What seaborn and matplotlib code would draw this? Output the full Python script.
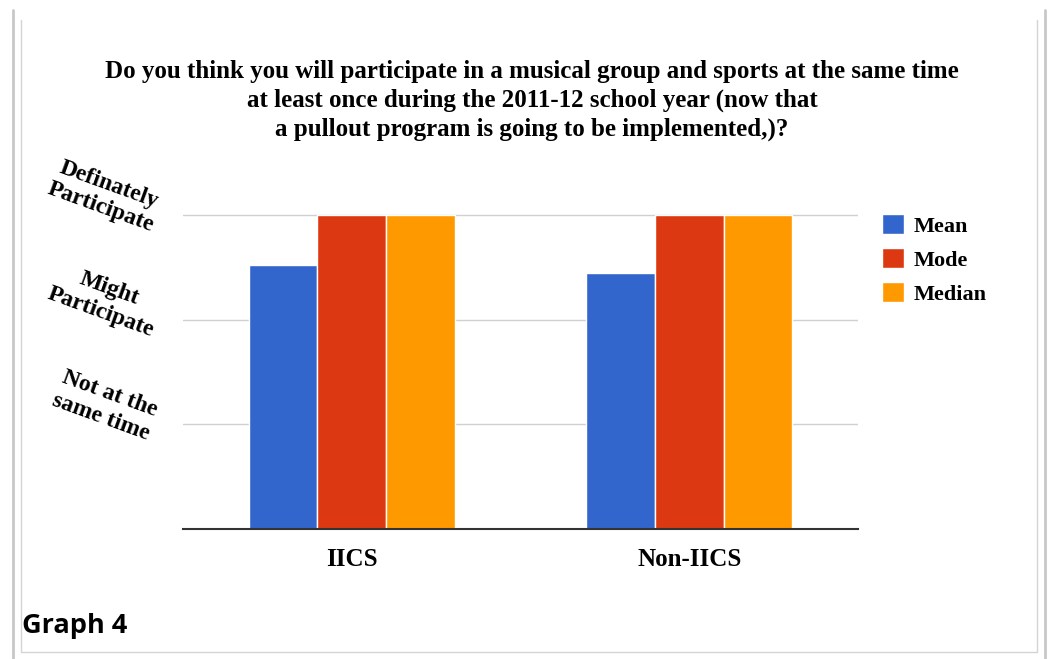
import matplotlib
matplotlib.use("Agg")
import matplotlib.pyplot as plt
import matplotlib.transforms as mtransforms
from matplotlib.lines import Line2D
import seaborn as sns
import pandas as pd

# ---- data ----
groups = ["IICS", "Non-IICS"]
stats = ["Mean", "Mode", "Median"]
mean_vals = [2.52, 2.45]
mode_vals = [3.0, 3.0]
median_vals = [3.0, 3.0]
y_ticks = [1, 2, 3]
y_tick_labels = ["Not at the\nsame time", "Might\nParticipate", "Definately\nParticipate"]
title = ("Do you think you will participate in a musical group and sports at the same time\n"
         "at least once during the 2011-12 school year (now that\n"
         "a pullout program is going to be implemented,)?")
colors = ["#3366CC", "#DC3912", "#FF9900"]

rows = []
for stat, vals in zip(stats, [mean_vals, mode_vals, median_vals]):
    for g, v in zip(groups, vals):
        rows.append({"group": g, "stat": stat, "value": v})
df = pd.DataFrame(rows)

sns.set_theme(style="white")
plt.rcParams["font.family"] = ["Liberation Serif", "DejaVu Serif"]
plt.rcParams["text.color"] = "black"
plt.rcParams["xtick.color"] = "black"
plt.rcParams["ytick.color"] = "black"
plt.rcParams["xtick.labelcolor"] = "black"
plt.rcParams["ytick.labelcolor"] = "black"

W, H = 1048, 659
fig = plt.figure(figsize=(W / 100, H / 100), dpi=100)
fig.patch.set_facecolor("white")

ax_left, ax_right = 183, 858
ax_bottom = 529
unit = (529 - 215) / 3.0
ymax = 3.08
ax_top = ax_bottom - ymax * unit
ax = fig.add_axes([ax_left / W, 1 - ax_bottom / H, (ax_right - ax_left) / W, (ax_bottom - ax_top) / H])

sns.barplot(data=df, x="group", y="value", hue="stat", order=groups, hue_order=stats,
            palette=colors, saturation=1, width=0.61, edgecolor="white", linewidth=1.0,
            ax=ax, legend=True)

ax.set_xlim(-0.5, 1.5)
ax.set_ylim(0, ymax)
ax.set_xlabel("")
ax.set_ylabel("")
for s in ["top", "right", "left"]:
    ax.spines[s].set_visible(False)
ax.spines["bottom"].set_color("#333333")
ax.spines["bottom"].set_linewidth(1.5)
ax.set_axisbelow(True)
ax.yaxis.grid(True, color="#d0d0d0", linewidth=1)
ax.xaxis.grid(False)

ax.set_yticks(y_ticks)
ax.set_yticklabels(y_tick_labels, rotation=-20, ha="center", va="center",
                   fontsize=17, fontweight="bold", linespacing=1.22, color="black")
ax.tick_params(axis="y", length=0, pad=56)
offset = mtransforms.ScaledTranslation(0, 0.19, fig.dpi_scale_trans)
for lab in ax.get_yticklabels():
    lab.set_transform(lab.get_transform() + offset)

ax.tick_params(axis="x", length=0, pad=14)
for lab in ax.get_xticklabels():
    lab.set_fontsize(18)
    lab.set_fontweight("bold")
    lab.set_color("black")

handles, labels = ax.get_legend_handles_labels()
ax.legend(handles, labels, loc="upper left", bbox_to_anchor=(882 / W, 1 - 214 / H),
          bbox_transform=fig.transFigure, frameon=False, borderpad=0, borderaxespad=0,
          handlelength=1.0, handleheight=1.0, handletextpad=0.42, labelspacing=0.52,
          prop={"family": "Liberation Serif", "weight": "bold", "size": 16})

fig.text(532 / W, 1 - 60 / H, title, ha="center", va="top", fontsize=18,
         fontweight="bold", linespacing=1.3, color="black")

fig.text(22 / W, 1 - 633 / H, "Graph 4", ha="left", va="baseline", fontsize=19.5,
         fontweight="bold", family=["Open Sans", "DejaVu Sans"], color="black")

def fline(x0, y0, x1, y1, color, lw):
    fig.add_artist(Line2D([x0 / W, x1 / W], [1 - y0 / H, 1 - y1 / H],
                          transform=fig.transFigure, color=color, linewidth=lw))

fline(13, 10, 13, 659, "#c8c8c8", 2.0)
fline(21, 20, 21, 652, "#d4d4d4", 1.0)
fline(1037, 20, 1037, 652, "#d4d4d4", 1.0)
fline(1045, 10, 1045, 659, "#c8c8c8", 2.0)
fline(21, 652, 1037, 652, "#d4d4d4", 1.0)

fig.savefig("out.png", dpi=100)
